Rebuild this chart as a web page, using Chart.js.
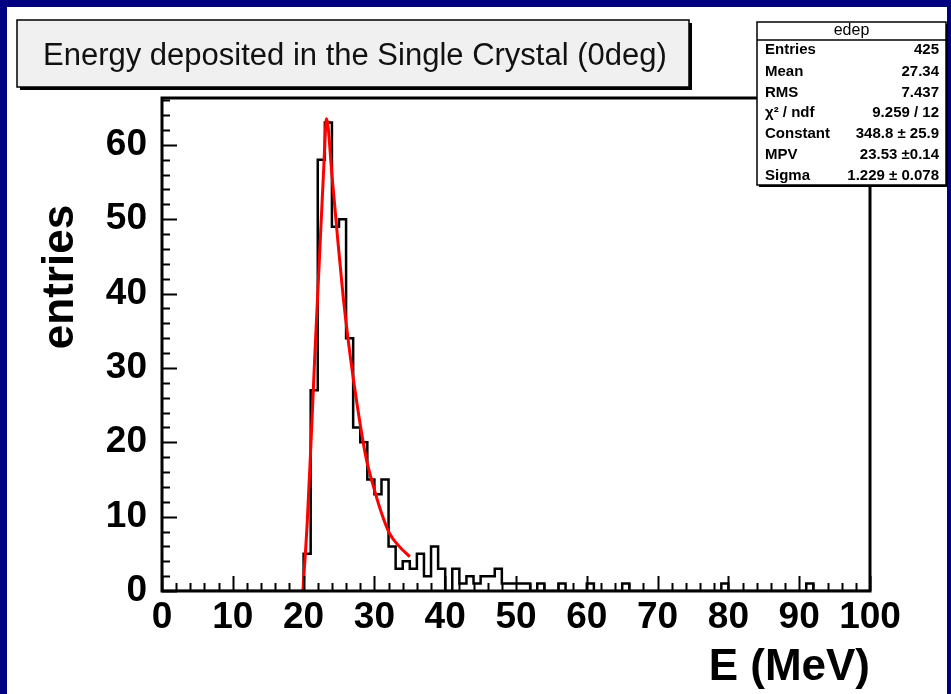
<!DOCTYPE html>
<html>
<head>
<meta charset="utf-8">
<script src="https://cdn.jsdelivr.net/npm/chart.js@4.4.0/dist/chart.umd.min.js"></script>
<style>
html,body{margin:0;padding:0;background:#000080;overflow:hidden;}
#box{position:absolute;left:0;top:0;width:951px;height:694px;}
</style>
</head>
<body>
<div id="box"><canvas id="c" width="951" height="694"></canvas></div>
<script>
// ---- data ----
const histTitle = 'Energy deposited in the Single Crystal (0deg)';
const xAxisTitle = 'E (MeV)';
const yAxisTitle = 'entries';
const xRange = [0, 100];
const yRange = [0, 66.3];
const xTickLabels = [0, 10, 20, 30, 40, 50, 60, 70, 80, 90, 100];
const yTickLabels = [0, 10, 20, 30, 40, 50, 60];
// 1 MeV bins starting at 0 MeV
const binLowEdges = Array.from({length: 100}, (_, i) => i);
const binCounts = [
  0,0,0,0,0,0,0,0,0,0,
  0,0,0,0,0,0,0,0,0,0,
  5,27,58,63,49,50,34,22,20,15,
  13,15,6,3,4,3,5,2,6,3,
  0,3,1,2,1,2,2,3,1,1,
  1,1,0,1,0,0,1,0,0,0,
  1,0,0,0,0,1,0,0,0,0,
  0,0,0,0,0,0,0,0,0,1,
  0,0,0,0,0,0,0,0,0,0,
  0,1,0,0,0,0,0,0,0,0
];
// fitted curve, points
const fitE = [19.9, 20.5, 21.0, 21.6, 22.2, 22.8, 23.25, 24.0, 24.8, 25.6, 26.6, 27.6, 28.8, 30.0, 31.0, 32.1, 33.5, 35.0];
const fitY = [0, 9, 19, 32, 44, 56, 63.5, 56, 47.5, 39.5, 31.5, 24.8, 18, 13.6, 10.5, 7.8, 6.0, 4.6];
const statsName = 'edep';
const statLabels = ['Entries', 'Mean', 'RMS', 'χ² / ndf', 'Constant', 'MPV', 'Sigma'];
const statValues = ['425', '27.34', '7.437', '9.259 / 12', '348.8 ± 25.9', '23.53 ±0.14', '1.229 ± 0.078'];

// ---- build datasets ----
const histPoints = [{x: xRange[0], y: 0}].concat(
  binLowEdges.map((x, i) => ({x: x + 1, y: binCounts[i]}))
);
const fitPoints = fitE.map((x, i) => ({x: x, y: fitY[i]}));

const FONT = '"Liberation Sans", Arial, Helvetica, sans-serif';

const decor = {
  id: 'decor',
  beforeDraw(chart) {
    const ctx = chart.ctx;
    ctx.save();
    ctx.fillStyle = '#000080';
    ctx.fillRect(0, 0, chart.width, chart.height);
    ctx.fillStyle = '#ffffff';
    ctx.fillRect(7, 7, chart.width - 11, chart.height - 7);
    ctx.restore();
  },
  afterDraw(chart) {
    const ctx = chart.ctx;
    const a = chart.chartArea;
    const xs = chart.scales.x, ys = chart.scales.y;
    ctx.save();
    // ticks (inside the frame)
    ctx.strokeStyle = '#000';
    ctx.lineWidth = 2;
    ctx.beginPath();
    for (let v = xRange[0]; v <= xRange[1]; v += 2) {
      const px = Math.round(xs.getPixelForValue(v)) + 0.5;
      const len = (v % 10 === 0) ? 15 : 8;
      ctx.moveTo(px, a.bottom);
      ctx.lineTo(px, a.bottom - len);
    }
    for (let v = 0; v <= yRange[1]; v += 2) {
      const py = Math.round(ys.getPixelForValue(v)) + 0.5;
      const len = (v % 10 === 0) ? 15 : 8;
      ctx.moveTo(a.left, py);
      ctx.lineTo(a.left + len, py);
    }
    ctx.stroke();
    // frame
    ctx.lineWidth = 3;
    ctx.strokeRect(a.left, a.top, a.right - a.left, a.bottom - a.top);

    // axis titles
    ctx.fillStyle = '#000';
    ctx.font = 'bold 44px ' + FONT;
    ctx.textAlign = 'right';
    ctx.textBaseline = 'alphabetic';
    ctx.fillText(xAxisTitle, a.right, 680);
    ctx.save();
    ctx.translate(73, 277);
    ctx.rotate(-Math.PI / 2);
    ctx.textAlign = 'center';
    ctx.fillText(yAxisTitle, 0, 0);
    ctx.restore();

    // title box
    const tb = {x: 17, y: 20, w: 672, h: 67};
    ctx.fillStyle = '#000';
    ctx.fillRect(tb.x + 3, tb.y + 3, tb.w, tb.h);
    ctx.fillStyle = '#f0f0f0';
    ctx.fillRect(tb.x, tb.y, tb.w, tb.h);
    ctx.lineWidth = 1.5;
    ctx.strokeRect(tb.x, tb.y, tb.w, tb.h);
    ctx.fillStyle = '#111';
    ctx.font = '31px ' + FONT;
    ctx.textAlign = 'left';
    ctx.fillText(histTitle, 43, 65);

    // stats box
    const sb = {x: 757, y: 22, w: 189, h: 163};
    ctx.fillStyle = '#000';
    ctx.fillRect(sb.x + 2, sb.y + 2, sb.w, sb.h);
    ctx.fillStyle = '#fff';
    ctx.fillRect(sb.x, sb.y, sb.w, sb.h);
    ctx.lineWidth = 1.5;
    ctx.strokeRect(sb.x, sb.y, sb.w, sb.h);
    ctx.beginPath();
    ctx.moveTo(sb.x, 40); ctx.lineTo(sb.x + sb.w, 40);
    ctx.stroke();
    ctx.fillStyle = '#000';
    ctx.font = '16px ' + FONT;
    ctx.textAlign = 'center';
    ctx.textBaseline = 'middle';
    ctx.fillText(statsName, sb.x + sb.w / 2, 31);
    ctx.font = 'bold 15px ' + FONT;
    const rowY = [50, 72, 93, 113, 134, 155, 176];
    statLabels.forEach((l, i) => {
      ctx.textAlign = 'left';
      ctx.fillText(l, 765, rowY[i]);
      ctx.textAlign = 'right';
      ctx.fillText(statValues[i], 939, rowY[i]);
    });
    ctx.restore();
  }
};

new Chart(document.getElementById('c'), {
  type: 'line',
  data: {
    datasets: [
      {
        label: 'fit',
        data: fitPoints,
        borderColor: '#ff0000',
        borderWidth: 3,
        pointRadius: 0,
        cubicInterpolationMode: 'monotone',
        fill: false,
        order: 0
      },
      {
        label: 'edep',
        data: histPoints,
        borderColor: '#000000',
        borderWidth: 2.5,
        pointRadius: 0,
        stepped: 'after',
        fill: false,
        order: 1
      }
    ]
  },
  options: {
    responsive: false,
    animation: false,
    events: [],
    layout: {padding: {left: 0, top: 98, right: 81, bottom: 0}},
    plugins: {legend: {display: false}, tooltip: {enabled: false}, title: {display: false}},
    scales: {
      x: {
        type: 'linear',
        min: xRange[0], max: xRange[1],
        grid: {display: false},
        border: {display: false},
        afterBuildTicks: s => { s.ticks = xTickLabels.map(v => ({value: v})); },
        afterFit: s => { s.height = 103; },
        ticks: {
          autoSkip: false, maxRotation: 0, padding: -3,
          color: '#000',
          font: {family: FONT, size: 37, weight: 'bold'}
        }
      },
      y: {
        type: 'linear',
        min: yRange[0], max: yRange[1],
        grid: {display: false},
        border: {display: false},
        afterBuildTicks: s => { s.ticks = yTickLabels.map(v => ({value: v})); },
        afterFit: s => { s.width = 162; },
        ticks: {
          autoSkip: false, padding: 7,
          color: '#000',
          font: {family: FONT, size: 37, weight: 'bold'}
        }
      }
    }
  },
  plugins: [decor]
});
</script>
</body>
</html>
